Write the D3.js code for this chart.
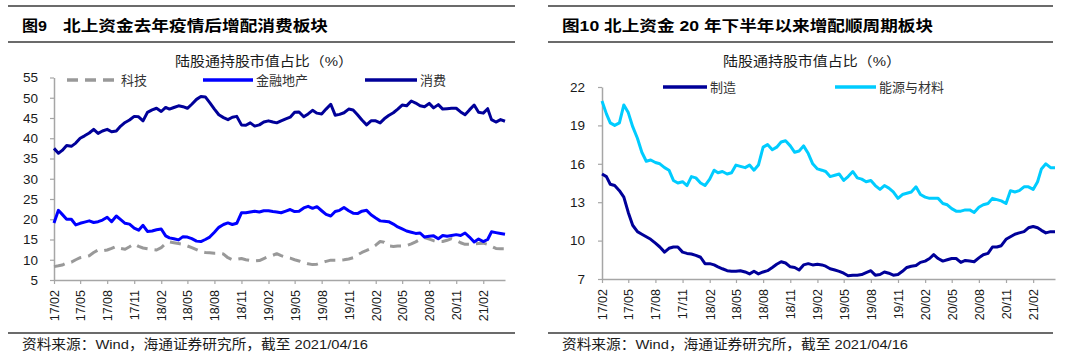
<!DOCTYPE html>
<html>
<head>
<meta charset="utf-8">
<script src="https://cdn.jsdelivr.net/npm/d3@7"></script>
<style>
	body { margin: 0; background: #fff; }
	svg text { font-family: "Liberation Sans", Arial, "Noto Sans CJK SC", sans-serif; fill: #1a1a1a; }
</style>
</head>
<body>
<svg id="chart" width="1080" height="361"></svg>
<script>
"use strict";

// semi-monthly observation dates (yy-mm-dd)
const dates = [
	"17-02-01", "17-02-16", "17-03-01", "17-03-16", "17-04-01", "17-04-16", "17-05-01", "17-05-16",
	"17-06-01", "17-06-16", "17-07-01", "17-07-16", "17-08-01", "17-08-16", "17-09-01", "17-09-16",
	"17-10-01", "17-10-16", "17-11-01", "17-11-16", "17-12-01", "17-12-16",
	"18-01-01", "18-01-16", "18-02-01", "18-02-16", "18-03-01", "18-03-16", "18-04-01", "18-04-16",
	"18-05-01", "18-05-16", "18-06-01", "18-06-16", "18-07-01", "18-07-16", "18-08-01", "18-08-16",
	"18-09-01", "18-09-16", "18-10-01", "18-10-16", "18-11-01", "18-11-16", "18-12-01", "18-12-16",
	"19-01-01", "19-01-16", "19-02-01", "19-02-16", "19-03-01", "19-03-16", "19-04-01", "19-04-16",
	"19-05-01", "19-05-16", "19-06-01", "19-06-16", "19-07-01", "19-07-16", "19-08-01", "19-08-16",
	"19-09-01", "19-09-16", "19-10-01", "19-10-16", "19-11-01", "19-11-16", "19-12-01", "19-12-16",
	"20-01-01", "20-01-16", "20-02-01", "20-02-16", "20-03-01", "20-03-16", "20-04-01", "20-04-16",
	"20-05-01", "20-05-16", "20-06-01", "20-06-16", "20-07-01", "20-07-16", "20-08-01", "20-08-16",
	"20-09-01", "20-09-16", "20-10-01", "20-10-16", "20-11-01", "20-11-16", "20-12-01", "20-12-16",
	"21-01-01", "21-01-16", "21-02-01", "21-02-16", "21-03-01", "21-03-16", "21-04-01", "21-04-16"
];

const tickLabels = ["17/02", "17/05", "17/08", "17/11", "18/02", "18/05", "18/08", "18/11",
	"19/02", "19/05", "19/08", "19/11", "20/02", "20/05", "20/08", "20/11", "21/02"];

// left chart: 科技 / 金融地产 / 消费
const tech = [
	8.3, 8.5, 8.7, 9.2, 9.4, 10.0, 10.5, 10.7, 11.0, 11.8,
	12.4, 12.2, 12.4, 12.8, 13.3, 12.8, 12.6, 13.2, 13.9, 13.3,
	12.9, 12.7, 12.5, 12.4, 13.0, 14.0, 14.4, 14.2, 14.0, 13.8,
	13.4, 13.0, 12.5, 12.0, 11.8, 11.7, 11.6, 11.6, 11.4, 10.5,
	10.0, 10.1, 10.3, 10.0, 9.8, 9.7, 9.8, 10.3, 10.8, 11.1,
	11.5, 11.0, 10.6, 10.4, 10.0, 9.7, 9.3, 9.0, 8.8, 8.9,
	9.3, 9.6, 9.9, 9.9, 9.9, 10.0, 10.2, 10.5, 11.2, 11.8,
	12.3, 12.8, 13.6, 14.5, 14.3, 13.4, 13.3, 13.4, 13.4, 13.5,
	13.9, 14.4, 15.0, 15.5, 15.1, 14.7, 14.5, 14.5, 14.8, 15.2,
	14.8, 14.2, 13.8, 13.8, 13.9, 14.0, 14.1, 13.8, 13.3, 12.8,
	12.7, 12.7
];
const finance = [
	19.1, 22.2, 21.2, 20.0, 20.0, 18.6, 19.0, 19.3, 19.6, 19.2,
	19.4, 19.8, 20.5, 19.4, 20.8, 19.9, 19.0, 18.8, 17.8, 17.3,
	18.5, 17.0, 17.1, 17.4, 17.6, 15.9, 15.4, 15.2, 14.9, 15.7,
	15.6, 15.2, 14.6, 14.5, 15.0, 15.6, 16.8, 18.0, 18.7, 19.1,
	18.7, 19.0, 21.6, 21.6, 21.8, 22.0, 21.8, 22.1, 22.1, 21.9,
	21.8, 21.6, 22.0, 22.4, 21.9, 22.0, 22.8, 23.2, 22.7, 23.1,
	22.1, 21.2, 20.8, 21.9, 22.2, 22.9, 22.1, 21.5, 21.4, 22.0,
	22.2, 21.1, 20.3, 19.6, 19.5, 19.4, 18.8, 18.1, 17.6, 17.1,
	16.8, 16.5, 16.6, 15.6, 15.8, 15.9, 15.2, 16.0, 15.8, 16.0,
	16.2, 16.0, 16.6, 15.6, 14.4, 15.1, 14.5, 15.0, 16.9, 16.7,
	16.5, 16.3
];
const consume = [
	37.5, 36.3, 37.0, 38.2, 38.0, 38.8, 40.0, 40.6, 41.3, 42.2,
	41.2, 41.8, 42.2, 41.6, 41.8, 43.0, 43.9, 44.5, 45.4, 45.3,
	44.3, 46.4, 47.0, 47.4, 46.6, 47.6, 47.2, 47.6, 48.0, 47.8,
	47.4, 48.4, 49.6, 50.3, 50.2, 48.8, 47.2, 45.8, 45.1, 44.6,
	45.2, 45.4, 43.3, 43.2, 43.8, 43.0, 43.3, 44.0, 44.3, 44.0,
	43.8, 44.3, 44.8, 45.2, 46.4, 46.5, 45.3, 46.0, 46.9, 46.2,
	46.0, 47.2, 48.4, 45.7, 45.9, 46.3, 47.2, 47.0, 45.8, 44.5,
	43.3, 44.3, 44.3, 43.8, 44.8, 45.6, 46.3, 47.2, 48.2, 48.0,
	49.2, 48.7, 48.0, 47.8, 48.6, 47.5, 48.3, 47.2, 47.3, 47.4,
	47.4, 46.5, 45.8, 47.0, 48.2, 46.4, 46.2, 47.3, 44.6, 44.0,
	44.6, 44.2
];

// right chart: 制造 / 能源与材料
const manufacture = [
	15.2, 15.0, 14.4, 14.3, 13.9, 13.4, 12.2, 11.2, 10.7, 10.5,
	10.3, 10.1, 9.8, 9.5, 9.1, 9.4, 9.5, 9.5, 9.1, 9.0,
	8.95, 8.85, 8.7, 8.2, 8.2, 8.1, 7.95, 7.8, 7.65, 7.6,
	7.6, 7.65, 7.55, 7.4, 7.6, 7.4, 7.55, 7.65, 7.9, 8.15,
	8.35, 8.25, 7.95, 7.9, 7.7, 8.1, 8.2, 8.1, 8.15, 8.1,
	8.0, 7.8, 7.7, 7.6, 7.45, 7.25, 7.3, 7.3, 7.35, 7.5,
	7.65, 7.3, 7.35, 7.55, 7.45, 7.3, 7.35, 7.6, 7.9, 8.0,
	8.05, 8.3, 8.4, 8.6, 8.9, 8.6, 8.4, 8.5, 8.6, 8.6,
	8.3, 8.45, 8.4, 8.35, 8.65, 8.9, 9.0, 9.5, 9.5, 9.6,
	10.1, 10.3, 10.5, 10.6, 10.7, 11.0, 11.1, 11.0, 10.8, 10.6,
	10.7, 10.7
];
const energy = [
	20.9, 19.9, 19.2, 19.0, 19.2, 20.6, 20.0, 18.9, 18.0, 16.9,
	16.2, 16.3, 16.1, 16.0, 15.7, 15.5, 14.7, 14.5, 14.6, 14.3,
	15.0, 14.9, 14.5, 14.3, 14.8, 15.5, 15.3, 15.4, 15.2, 15.3,
	15.9, 15.8, 15.7, 15.9, 15.5, 15.9, 17.3, 17.5, 17.1, 17.3,
	17.7, 17.8, 17.4, 16.9, 17.0, 17.4, 16.8, 16.0, 15.6, 15.5,
	15.4, 15.0, 15.1, 15.2, 14.7, 15.0, 15.4, 14.9, 14.8, 14.6,
	14.7, 14.3, 14.0, 14.3, 14.1, 13.8, 13.3, 13.6, 13.7, 13.8,
	14.2, 13.6, 13.4, 13.3, 13.3, 13.3, 12.9, 12.8, 12.5, 12.3,
	12.3, 12.4, 12.4, 12.2, 12.6, 12.8, 12.9, 13.3, 13.2, 13.1,
	12.9, 13.9, 13.8, 13.9, 14.2, 14.2, 14.0, 14.6, 15.6, 16.0,
	15.7, 15.7
];

const leftTicks = [5, 10, 15, 20, 25, 30, 35, 40, 45, 50, 55];
const rightTicks = [7, 10, 13, 16, 19, 22];

const parseDate = d3.utcParse("%y-%m-%d");
const parseTick = d3.utcParse("%y/%m");
const times = dates.map(parseDate);

const svg = d3.select("#chart");

function drawPanel(p) {
	const g = svg.append("g");

	// horizontal rules around title and under the chart
	[6, 42, 333].forEach(function(y) {
		g.append("line")
			.attr("x1", p.ruleX[0]).attr("x2", p.ruleX[1])
			.attr("y1", y).attr("y2", y)
			.attr("stroke", "#3a3a3a")
			.attr("stroke-width", 1.5);
	});

	p.title.forEach(function(t) {
		g.append("text")
			.attr("x", t.x).attr("y", 31)
			.attr("textLength", t.w)
			.attr("lengthAdjust", "spacingAndGlyphs")
			.style("font-size", "15px")
			.style("font-weight", "bold")
			.style("fill", "#000")
			.text(t.text);
	});

	g.append("text")
		.attr("x", p.subX).attr("y", 66)
		.attr("textLength", 178)
		.attr("lengthAdjust", "spacingAndGlyphs")
		.style("font-size", "13.5px")
		.text("陆股通持股市值占比（%）");

	g.append("text")
		.attr("x", p.ruleX[0] + 14).attr("y", 349)
		.attr("textLength", 346)
		.attr("lengthAdjust", "spacingAndGlyphs")
		.style("font-size", "13.5px")
		.text("资料来源：Wind，海通证券研究所，截至 2021/04/16");

	const x = d3.scaleUtc()
		.domain([times[0], times[times.length - 1]])
		.range(p.xRange);
	const y = d3.scaleLinear()
		.domain(d3.extent(p.yTicks))
		.range(p.yRange);

	// y axis
	const yAxis = g.append("g")
		.attr("transform", "translate(" + p.xRange[0] + ",0)")
		.call(d3.axisLeft(y).tickValues(p.yTicks).tickSize(4).tickSizeOuter(0).tickPadding(p.yPad));
	// x axis
	const xAxis = g.append("g")
		.attr("transform", "translate(0," + p.yRange[0] + ")")
		.call(d3.axisBottom(x)
			.tickValues(tickLabels.map(parseTick))
			.tickFormat(function(d, i) { return tickLabels[i]; })
			.tickSize(4).tickSizeOuter(0));

	[yAxis, xAxis].forEach(function(a) {
		a.select(".domain").attr("stroke", "#a6a6a6").attr("stroke-width", 1.5);
		a.selectAll(".tick line").attr("stroke", "#a6a6a6").attr("stroke-width", 1.2);
	});
	yAxis.selectAll("text").style("font-size", "13.5px");
	xAxis.selectAll("text")
		.style("font-size", "12.5px")
		.style("text-anchor", "end")
		.attr("transform", "rotate(-90)")
		.attr("x", -10).attr("y", 0).attr("dy", "0.35em");

	const line = d3.line()
		.x(function(d, i) { return x(times[i]); })
		.y(function(d) { return y(d); });

	p.series.forEach(function(s) {
		g.append("path")
			.datum(s.values)
			.attr("d", line)
			.attr("fill", "none")
			.attr("stroke", s.color)
			.attr("stroke-width", 3)
			.attr("stroke-linejoin", "round")
			.attr("stroke-dasharray", s.dash || null);

		// legend entry
		g.append("line")
			.attr("x1", s.lx[0]).attr("x2", s.lx[1])
			.attr("y1", p.legendY).attr("y2", p.legendY)
			.attr("stroke", s.color)
			.attr("stroke-width", 3.5)
			.attr("stroke-dasharray", s.dash || null);
		g.append("text")
			.attr("x", s.lx[1] + 3).attr("y", p.legendY + 4.5)
			.style("font-size", "13px")
			.style("fill", "#333")
			.text(s.name);
	});
}

drawPanel({
	ruleX: [8, 515],
	title: [{text: "图9", x: 22, w: 25}, {text: "北上资金去年疫情后增配消费板块", x: 63, w: 265}],
	subX: 175,
	xRange: [54, 505],
	yRange: [280, 77.5],
	yTicks: leftTicks,
	yPad: 12,
	legendY: 80,
	series: [
		{name: "科技", values: tech, color: "#999999", dash: "11,7", lx: [67, 118]},
		{name: "金融地产", values: finance, color: "#0000ff", lx: [203, 253]},
		{name: "消费", values: consume, color: "#000099", lx: [365, 417]}
	]
});

drawPanel({
	ruleX: [548, 1053],
	title: [{text: "图10 北上资金 20 年下半年以来增配顺周期板块", x: 562, w: 371}],
	subX: 723,
	xRange: [602, 1055],
	yRange: [279, 87],
	yTicks: rightTicks,
	yPad: 13,
	legendY: 87,
	series: [
		{name: "制造", values: manufacture, color: "#000099", lx: [663, 707]},
		{name: "能源与材料", values: energy, color: "#00ccff", lx: [835, 876]}
	]
});
</script>
</body>
</html>
